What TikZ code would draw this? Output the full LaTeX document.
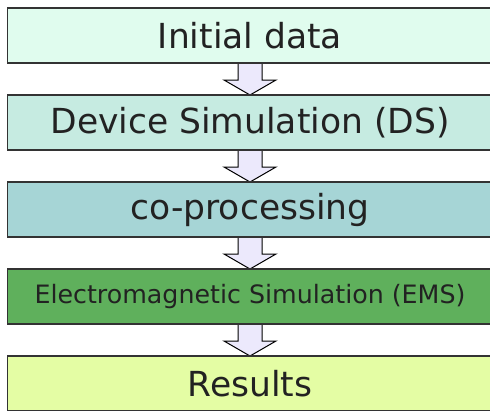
\documentclass[tikz,border=0pt]{standalone}
\usepackage{fontspec}
\setmainfont{DejaVu Sans}
\usetikzlibrary{positioning,calc,backgrounds}
\definecolor{inkgray}{RGB}{51,51,51}
\definecolor{txtgray}{RGB}{34,34,34}
\definecolor{mint}{RGB}{224,252,238}
\definecolor{seafoam}{RGB}{198,235,225}
\definecolor{teal}{RGB}{166,213,214}
\definecolor{leaf}{RGB}{95,176,92}
\definecolor{lime}{RGB}{228,253,164}
\definecolor{lavender}{RGB}{236,233,252}

\begin{document}
\begin{tikzpicture}[x=1pt, y=1pt,
      stage/.style={rectangle, draw=inkgray, line width=1.3pt, text=txtgray,
                    minimum width=485pt, minimum height=55pt, inner sep=0pt,
                    outer sep=0pt, font=\fontsize{34.5}{41}\selectfont},
      smallstage/.style={stage, font=\fontsize{25.3}{30}\selectfont},
      downarrow/.style={draw=black, line width=1pt, fill=lavender, line join=miter}]
    \useasboundingbox (0,0) rectangle (490,-410);
    % the five stages of the flow
    \node[stage, fill=mint] (init) at (250,-35.5) {Initial data};
    \node[stage, fill=seafoam, below=32pt of init] (ds) {Device Simulation (DS)};
    \node[stage, fill=teal, below=32pt of ds] (coproc) {co-processing};
    \node[smallstage, fill=leaf, below=32pt of coproc] (ems) {Electromagnetic Simulation (EMS)};
    \node[stage, fill=lime, below=32pt of ems] (res) {Results};
    % block arrows between stages
    \begin{scope}[on background layer]
    \foreach \a/\b in {init/ds, ds/coproc, coproc/ems, ems/res}{
      \draw[downarrow] ($(\a.south)+(-12,0)$) -- ($(\a.south)+(12,0)$)
        -- ($(\b.north)+(12,15)$) -- ($(\b.north)+(26,15)$) -- (\b.north)
        -- ($(\b.north)+(-26,15)$) -- ($(\b.north)+(-12,15)$) -- cycle;
    }
    \end{scope}
\end{tikzpicture}
\end{document}
